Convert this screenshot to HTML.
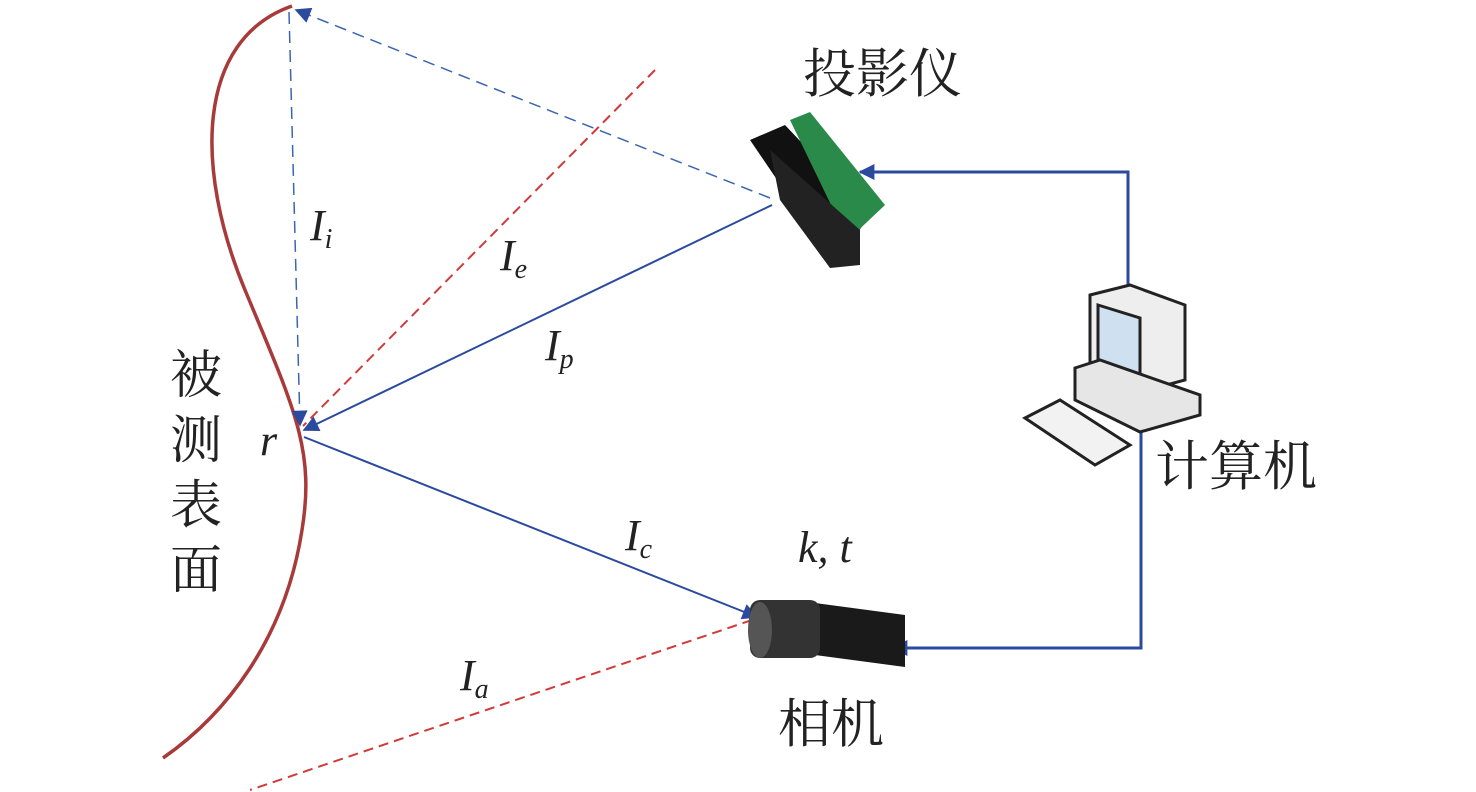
<!DOCTYPE html>
<html><head><meta charset="utf-8"><style>
html,body{margin:0;padding:0;background:#fff}
svg{display:block}
.t{font-family:"Liberation Serif","Noto Serif CJK SC",serif;fill:#222}
.i{font-family:"Liberation Serif",serif;font-style:italic;fill:#222;font-size:44px}
.s{font-size:28px}
</style></head><body>
<svg width="1476" height="792" viewBox="0 0 1476 792" xmlns="http://www.w3.org/2000/svg">
<defs>
<marker id="b" viewBox="0 0 10 10" refX="9" refY="5" markerWidth="20" markerHeight="16" orient="auto" markerUnits="userSpaceOnUse"><path d="M0,0 L10,5 L0,10 z" fill="#2a4a9e"/></marker>
</defs>
<path d="M292,6 C195,40 195,170 245,290 C295,410 315,450 302,530 C285,640 225,715 163,758" fill="none" stroke="#a83a3a" stroke-width="3.5"/>
<line x1="770" y1="198" x2="296" y2="10" stroke="#3a66b0" stroke-width="1.5" stroke-dasharray="12,7" marker-end="url(#b)"/>
<line x1="289" y1="12" x2="300" y2="425" stroke="#3a66b0" stroke-width="1.5" stroke-dasharray="12,7" marker-end="url(#b)"/>
<line x1="655" y1="70" x2="303" y2="426" stroke="#d03a3a" stroke-width="2" stroke-dasharray="10,6"/>
<line x1="752" y1="620" x2="250" y2="790" stroke="#d03a3a" stroke-width="2" stroke-dasharray="10,6"/>
<line x1="772" y1="205" x2="304" y2="430" stroke="#2a4a9e" stroke-width="2" marker-end="url(#b)"/>
<line x1="304" y1="437" x2="757" y2="617" stroke="#2a4a9e" stroke-width="2" marker-end="url(#b)"/>
<polyline points="1128,295 1128,172 860,172" fill="none" stroke="#2a4a9e" stroke-width="3" marker-end="url(#b)"/>
<polyline points="1141,430 1141,648 893,648" fill="none" stroke="#2a4a9e" stroke-width="3" marker-end="url(#b)"/>
<g>
<polygon points="750,140 785,125 870,215 835,265" fill="#111"/>
<polygon points="790,120 810,112 885,205 848,240" fill="#2a8a4a"/>
<polygon points="770,150 860,230 860,265 830,268 780,200" fill="#222"/>
</g>
<g stroke="#222" stroke-width="3">
<polygon points="1090,295 1130,285 1185,305 1185,380 1140,392 1090,380" fill="#eee"/>
<polygon points="1098,305 1140,318 1140,385 1098,372" fill="#cfe0f0"/>
<polygon points="1075,368 1100,360 1200,395 1200,415 1140,432 1075,400" fill="#e6e6e6"/>
<polygon points="1025,418 1060,400 1130,445 1095,465" fill="#f2f2f2"/>
</g>
<g>
<polygon points="815,603 905,615 905,667 815,655" fill="#1a1a1a"/>
<rect x="750" y="600" width="70" height="58" rx="10" fill="#333"/>
<ellipse cx="760" cy="630" rx="12" ry="28" fill="#555"/>
</g>
<text class="t" x="803" y="92" font-size="53">投影仪</text>
<text class="t" x="1155" y="485" font-size="54">计算机</text>
<text class="t" x="778" y="742" font-size="53">相机</text>
<text class="t" x="170" y="393" font-size="52">被</text>
<text class="t" x="170" y="458" font-size="52">测</text>
<text class="t" x="170" y="523" font-size="52">表</text>
<text class="t" x="170" y="588" font-size="52">面</text>
<text class="i" x="310" y="240">I<tspan class="s" dy="8">i</tspan></text>
<text class="i" x="500" y="270">I<tspan class="s" dy="8">e</tspan></text>
<text class="i" x="545" y="360">I<tspan class="s" dy="8">p</tspan></text>
<text class="i" x="260" y="455">r</text>
<text class="i" x="625" y="550">I<tspan class="s" dy="8">c</tspan></text>
<text class="i" x="460" y="690">I<tspan class="s" dy="8">a</tspan></text>
<text class="i" x="798" y="562">k, t</text>
</svg>
</body></html>
